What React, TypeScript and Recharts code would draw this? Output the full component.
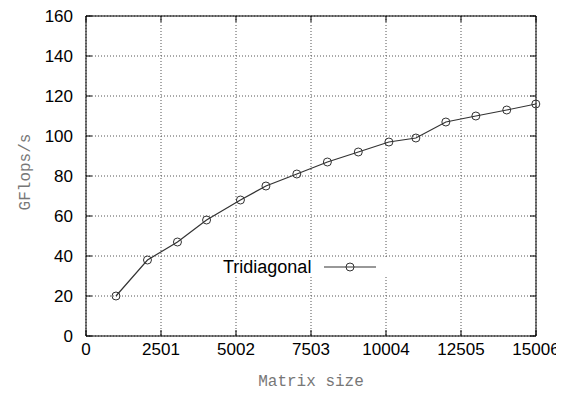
import React from "react";
import {
  CartesianGrid,
  Line,
  LineChart,
  ReferenceArea,
  XAxis,
  YAxis,
} from "recharts";

// matrix size vs. throughput
const matrixSizes = [1000, 2050, 3050, 4020, 5150, 6000, 7030, 8050, 9080, 10100, 11000, 12000, 13000, 14030, 15000];
const gflops = [20, 38, 47, 58, 68, 75, 81, 87, 92, 97, 99, 107, 110, 113, 116];
const xTicks = [0, 2501, 5002, 7503, 10004, 12505, 15006];
const yTicks = [0, 20, 40, 60, 80, 100, 120, 140, 160];
const seriesName = "Tridiagonal";

const data = matrixSizes.map((size, i) => ({ size, gflops: gflops[i] }));

const W = 570;
const H = 394;
const MARGIN = { top: 16, right: 34, bottom: 0, left: 0 };
const Y_AXIS_W = 86;
const X_AXIS_H = 58;
const PLOT = {
  left: MARGIN.left + Y_AXIS_W,
  right: W - MARGIN.right,
  top: MARGIN.top,
  bottom: H - MARGIN.bottom - X_AXIS_H,
};
const TICK_LEN = 6;
const SANS = "'Liberation Sans', Arial, Helvetica, sans-serif";
const MONO = "'Liberation Mono', 'Courier New', monospace";
const INK = "#333";

// gnuplot-style ticks: pointing inward, mirrored on the opposite border
function XTick(props: any) {
  const { x, payload } = props;
  return (
    <g>
      <line x1={x} x2={x} y1={PLOT.bottom} y2={PLOT.bottom - TICK_LEN} stroke="#000" />
      <line x1={x} x2={x} y1={PLOT.top} y2={PLOT.top + TICK_LEN} stroke="#000" />
      <text x={x} y={PLOT.bottom + 19} textAnchor="middle" fontFamily={SANS} fontSize={17} fill="#000">
        {payload.value}
      </text>
    </g>
  );
}

function YTick(props: any) {
  const { y, payload } = props;
  return (
    <g>
      <line x1={PLOT.left} x2={PLOT.left + TICK_LEN} y1={y} y2={y} stroke="#000" />
      <line x1={PLOT.right} x2={PLOT.right - TICK_LEN} y1={y} y2={y} stroke="#000" />
      <text x={PLOT.left - 13} y={y} dy="0.36em" textAnchor="end" fontFamily={SANS} fontSize={17} fill="#000">
        {payload.value}
      </text>
    </g>
  );
}

function XLabel() {
  return (
    <text x={(PLOT.left + PLOT.right) / 2} y={386} textAnchor="middle" fontFamily={MONO} fontSize={16} fill="#777">
      Matrix size
    </text>
  );
}

function YLabel() {
  const cx = 30;
  const cy = 172;
  return (
    <text
      x={cx}
      y={cy}
      textAnchor="middle"
      transform={`rotate(-90 ${cx} ${cy})`}
      fontFamily={MONO}
      fontSize={16}
      fill="#777"
    >
      GFlops/s
    </text>
  );
}

function LegendBox() {
  return (
    <div
      style={{
        position: "absolute",
        left: 217,
        top: 257,
        height: 20,
        display: "flex",
        alignItems: "center",
        background: "#fff",
        paddingLeft: 6,
        paddingRight: 12,
      }}
    >
      <span style={{ fontFamily: SANS, fontSize: 18, color: "#000", lineHeight: "20px" }}>{seriesName}</span>
      <svg width={53} height={20} style={{ marginLeft: 13 }}>
        <line x1={0} x2={52} y1={10} y2={10} stroke={INK} strokeWidth={1.2} />
        <circle cx={26} cy={10} r={4} fill="none" stroke={INK} strokeWidth={1} />
      </svg>
    </div>
  );
}

export default function App() {
  return (
    <div style={{ position: "relative", width: 556, height: H, overflow: "hidden", background: "#fff" }}>
      <style>{`body{margin:0;background:#fff}`}</style>
      <LineChart width={W} height={H} data={data} margin={MARGIN}>
        <CartesianGrid stroke="#555" strokeDasharray="1 2" strokeWidth={1} />
        <XAxis
          dataKey="size"
          type="number"
          domain={[xTicks[0], xTicks[xTicks.length - 1]]}
          ticks={xTicks}
          height={X_AXIS_H}
          axisLine={false}
          tickLine={false}
          tick={<XTick />}
          label={<XLabel />}
          interval={0}
        />
        <YAxis
          type="number"
          domain={[yTicks[0], yTicks[yTicks.length - 1]]}
          ticks={yTicks}
          width={Y_AXIS_W}
          axisLine={false}
          tickLine={false}
          tick={<YTick />}
          label={<YLabel />}
          interval={0}
        />
        <ReferenceArea
          x1={xTicks[0]}
          x2={xTicks[xTicks.length - 1]}
          y1={yTicks[0]}
          y2={yTicks[yTicks.length - 1]}
          fill="none"
          stroke="#000"
          strokeWidth={1}
          ifOverflow="visible"
        />
        <Line
          dataKey="gflops"
          name={seriesName}
          type="linear"
          stroke={INK}
          strokeWidth={1.2}
          dot={{ r: 4, fill: "none", stroke: INK, strokeWidth: 1 }}
          activeDot={false}
          isAnimationActive={false}
        />
      </LineChart>
      <LegendBox />
    </div>
  );
}
